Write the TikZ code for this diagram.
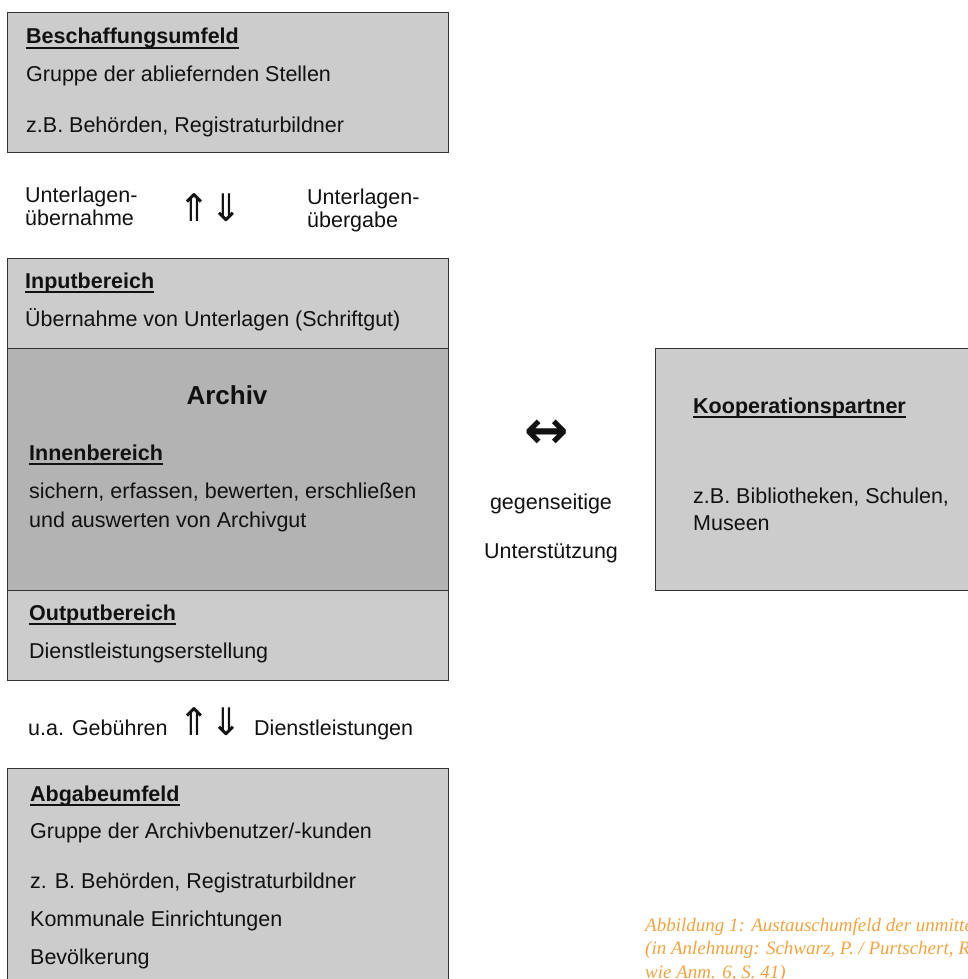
\documentclass[tikz,border=0pt]{standalone}
\usepackage{fontspec}
\setmainfont{Liberation Sans}
\newfontfamily\symfont{DejaVu Sans}
\newfontfamily\capfont{Liberation Serif}
\definecolor{boxlight}{HTML}{CCCCCC}
\definecolor{boxdark}{HTML}{B3B3B3}
\definecolor{edge}{HTML}{333333}
\definecolor{capcol}{RGB}{242,163,64}
\definecolor{ink}{HTML}{111111}
\tikzset{
  panel/.style={draw=edge, line width=1.3pt, fill=boxlight, anchor=north west, inner sep=0pt},
  darkpanel/.style={panel, fill=boxdark},
  txt/.style={anchor=base west, inner sep=0pt, text=ink, font=\fontsize{21.5}{26}\selectfont},
  ctxt/.style={txt, anchor=base},
  head/.style={txt, font=\fontsize{21.5}{26}\selectfont\bfseries},
  uline/.style={line width=1.5pt, ink},
  dblarr/.style={inner sep=0pt, anchor=center, text=ink, font=\symfont\fontsize{38}{40}\selectfont},
  lrarr/.style={inner sep=0pt, anchor=center, text=ink, font=\symfont\bfseries\fontsize{53}{53}\selectfont},
  captxt/.style={anchor=base west, inner sep=0pt, text=capcol, font=\capfont\itshape\fontsize{19}{23}\selectfont}
}
\begin{document}
\begin{tikzpicture}[x=1pt, y=-1pt]
\useasboundingbox (0,0) rectangle (968,979);
\clip (0,0) rectangle (968,979);
% boxes
\node[panel, minimum width=441pt, minimum height=140pt] (bes) at (7,12) {};
\node[panel, minimum width=441pt, minimum height=90pt] (inp) at (7,258) {};
\node[darkpanel, minimum width=441pt, minimum height=242pt] (arc) at (7,348) {};
\node[panel, minimum width=441pt, minimum height=90pt] (out) at (7,590) {};
\node[panel, minimum width=441pt, minimum height=240pt] (abg) at (7,768) {};
\node[panel, minimum width=340pt, minimum height=242pt] (koop) at (655,348) {};
% Beschaffungsumfeld
\node[head] (h1) at (26,44) {Beschaffungsumfeld};
\draw[uline] ([yshift=-4pt]h1.base west) -- ([yshift=-4pt]h1.base east);
\node[txt] (b1) at (26,82) {Gruppe der abliefernden Stellen};
\node[txt] (b2) at (26,132) {z.B. Behörden, Registraturbildner};
% upper exchange
\node[txt] (u1) at (25,202) {Unterlagen-};
\node[txt] (u2) at (25,225) {übernahme};
\node[dblarr] (a1) at (210,208) {⇑⇓};
\node[txt] (u3) at (307,204) {Unterlagen-};
\node[txt] (u4) at (307,227) {übergabe};
% Input
\node[head] (h2) at (25,288) {Inputbereich};
\draw[uline] ([yshift=-4pt]h2.base west) -- ([yshift=-4pt]h2.base east);
\node[txt] (i1) at (25,326) {Übernahme von Unterlagen (Schriftgut)};
% Archiv
\node[ctxt, font=\fontsize{26}{30}\selectfont\bfseries] (ar) at (227,404) {Archiv};
\node[head] (h3) at (29,460) {Innenbereich};
\draw[uline] ([yshift=-4pt]h3.base west) -- ([yshift=-4pt]h3.base east);
\node[txt] (n1) at (29,498) {sichern, erfassen, bewerten, erschließen};
\node[txt] (n2) at (29,527) {und auswerten von Archivgut};
% Output
\node[head] (h4) at (29,620) {Outputbereich};
\draw[uline] ([yshift=-4pt]h4.base west) -- ([yshift=-4pt]h4.base east);
\node[txt] (o1) at (29,658) {Dienstleistungserstellung};
% lower exchange
\node[txt] (g1) at (28,735) {u.a. Gebühren};
\node[dblarr] (a2) at (210,722) {⇑⇓};
\node[txt] (g2) at (254,735) {Dienstleistungen};
% Abgabeumfeld
\node[head] (h5) at (30,801) {Abgabeumfeld};
\draw[uline] ([yshift=-4pt]h5.base west) -- ([yshift=-4pt]h5.base east);
\node[txt] (d1) at (30,838) {Gruppe der Archivbenutzer/-kunden};
\node[txt] (d2) at (30,888) {z. B. Behörden, Registraturbildner};
\node[txt] (d3) at (30,926) {Kommunale Einrichtungen};
\node[txt] (d4) at (30,964) {Bevölkerung};
% middle
\node[lrarr] (a3) at (547,434) {↔};
\node[ctxt] (m1) at (551,509) {gegenseitige};
\node[ctxt] (m2) at (551,558) {Unterstützung};
% Kooperationspartner
\node[head] (h6) at (693,413) {Kooperationspartner};
\draw[uline] ([yshift=-4pt]h6.base west) -- ([yshift=-4pt]h6.base east);
\node[txt] (k1) at (693,503) {z.B. Bibliotheken, Schulen,};
\node[txt] (k2) at (693,530) {Museen};
% caption
\node[captxt] (c1) at (645,931) {Abbildung 1: Austauschumfeld der unmittelbaren};
\node[captxt] (c2) at (645,954.5) {(in Anlehnung: Schwarz, P. / Purtschert, R.};
\node[captxt] (c3) at (645,978) {wie Anm. 6, S. 41)};
\end{tikzpicture}
\end{document}
